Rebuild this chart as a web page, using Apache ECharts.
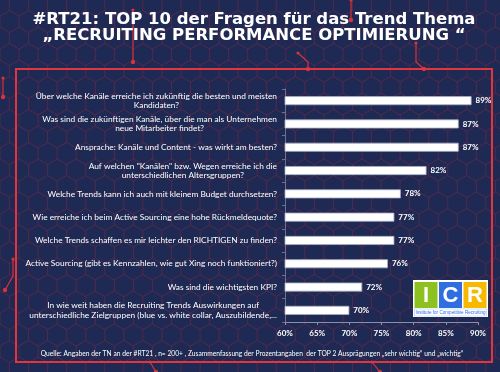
<!DOCTYPE html>
<html>
<head>
<meta charset="utf-8">
<script src="https://cdn.jsdelivr.net/npm/echarts@6/dist/echarts.min.js"></script>
<style>
html,body{margin:0;padding:0;background:#1e2a53;}
#c{width:500px;height:372px;}
</style>
</head>
<body>
<div id="c"></div>
<script>
// ---- data ----
const titleLines = [
  '#RT21: TOP 10 der Fragen für das Trend Thema',
  '„RECRUITING PERFORMANCE OPTIMIERUNG “'
];
const categories = [
  'Über welche Kanäle erreiche ich zukünftig die besten und meisten\nKandidaten?',
  'Was sind die zukünftigen Kanäle, über die man als Unternehmen\nneue Mitarbeiter findet?',
  'Ansprache: Kanäle und Content - was wirkt am besten?',
  'Auf welchen "Kanälen" bzw. Wegen erreiche ich die\nunterschiedlichen Altersgruppen?',
  'Welche Trends kann ich auch mit kleinem Budget durchsetzen?',
  'Wie erreiche ich beim Active Sourcing eine hohe Rückmeldequote?',
  'Welche Trends schaffen es mir leichter den RICHTIGEN zu finden?',
  'Active Sourcing (gibt es Kennzahlen, wie gut Xing noch funktioniert?)',
  'Was sind die wichtigsten KPI?',
  'In wie weit haben die Recruiting Trends Auswirkungen auf\nunterschiedliche Zielgruppen (blue vs. white collar, Auszubildende,...'
];
const values = [89, 87, 87, 82, 78, 77, 77, 76, 72, 70];
const axisMin = 60, axisMax = 90, axisStep = 5;
const footerText = 'Quelle: Angaben der TN an der #RT21 , n= 200+ , Zusammenfassung der Prozentangaben  der TOP 2 Ausprägungen „sehr wichtig“ und „wichtig“';
const logoLetters = ['I', 'C', 'R'];
const logoCaption = 'Institute for Competitive Recruiting';

// ---- decoration: hexagon background pattern ----
const W = 500, H = 372;
const hexR = 11, hexW = Math.sqrt(3) * hexR, y0 = 5;
const patternColor = 'rgba(170,40,62,0.55)';
const deco = [];
const rows = Math.ceil(H / (1.5 * hexR)) + 2;
for (let j = 0; j < rows; j++) {
  const yc = y0 + j * 1.5 * hexR;
  const off = (j % 2) * hexW / 2;
  const pts = [];
  for (let k = -2; k * hexW / 2 + off < W + hexW; k++) {
    const x = off + k * hexW / 2;
    pts.push([x, (k % 2 === 0) ? yc - hexR : yc - hexR / 2]);
  }
  deco.push({type: 'polyline', silent: true, z: 0, shape: {points: pts},
    style: {stroke: patternColor, lineWidth: 0.7, fill: null}});
}
for (let parity = 0; parity < 2; parity++) {
  const startY = y0 + parity * 1.5 * hexR - hexR / 2 - 3 * hexR;
  const xoff = parity === 0 ? hexW / 2 : 0;
  for (let x = xoff - hexW; x < W + hexW; x += hexW) {
    deco.push({type: 'line', silent: true, z: 0,
      shape: {x1: x, y1: startY, x2: x, y2: H + 20},
      style: {stroke: patternColor, lineWidth: 0.7, lineDash: [hexR, 2 * hexR]}});
  }
}
// red circuit accents
const accentColor = '#d8323c';
const accents = [
  [[133, 10], [133, 62]],
  [[351, 0], [351, 20]],
  [[298, 53], [308, 62], [308, 69]],
  [[416, 43], [416, 62], [424, 69]],
  [[3, 78], [3, 97]],
  [[13, 259], [13, 276], [5, 290]],
  [[150, 362], [156, 372]],
  [[372, 362], [380, 372]]
];
accents.forEach(a => {
  deco.push({type: 'polyline', silent: true, z: 1, shape: {points: a},
    style: {stroke: accentColor, lineWidth: 1.2, fill: null}});
  const e = a[a.length - 1];
  deco.push({type: 'circle', silent: true, z: 1, shape: {cx: e[0], cy: e[1], r: 2.2},
    style: {fill: accentColor}});
  const s = a[0];
  deco.push({type: 'circle', silent: true, z: 1, shape: {cx: s[0], cy: s[1], r: 1.6},
    style: {fill: accentColor}});
});

// frame
deco.push({type: 'rect', silent: true, z: 1, shape: {x: 16, y: 69, width: 476, height: 293},
  style: {fill: null, stroke: '#e3353b', lineWidth: 2}});

// title
titleLines.forEach((t, i) => {
  deco.push({type: 'text', silent: true, z: 5, x: 254, y: 19.5 + i * 16,
    style: {text: t, fill: '#ffffff', font: 'bold 16.5px "DejaVu Sans"', align: 'center', verticalAlign: 'middle'}});
});
// footer
deco.push({type: 'text', silent: true, z: 5, x: 252, y: 354,
  style: {text: footerText, fill: '#ffffff', font: '6.7px Lato', align: 'center', verticalAlign: 'middle'}});

// logo
const logoColors = ['#8cc11f', '#2f6ee0', '#f7b800'];
const logoChildren = [{type: 'rect', shape: {x: 0, y: 0, width: 75, height: 37}, style: {fill: '#ffffff'}}];
logoLetters.forEach((L, i) => {
  const bx = 1.5 + i * 24.5;
  logoChildren.push({type: 'rect', shape: {x: bx, y: 2, width: 23, height: 26}, style: {fill: logoColors[i]}});
  logoChildren.push({type: 'text', x: bx + 11.5, y: 15.5,
    style: {text: L, fill: '#ffffff', font: 'bold 22px Arial, "Liberation Sans"', align: 'center', verticalAlign: 'middle'}});
});
logoChildren.push({type: 'rect', shape: {x: 1.5, y: 29, width: 72, height: 7}, style: {fill: '#ffffff', stroke: '#9cc2f0', lineWidth: 0.5}});
logoChildren.push({type: 'text', x: 37.5, y: 32.5,
  style: {text: logoCaption, fill: '#2f6ee0', font: '4.6px "Liberation Sans"', align: 'center', verticalAlign: 'middle'}});
deco.push({type: 'group', x: 413, y: 280, z: 10, silent: true, children: logoChildren});

// ---- chart ----
const chart = echarts.init(document.getElementById('c'), null, {renderer: 'canvas', width: W, height: H});
chart.setOption({
  backgroundColor: '#1e2a53',
  animation: false,
  grid: {left: 285, right: 22, top: 89, bottom: 50},
  xAxis: {
    type: 'value', min: axisMin, max: axisMax, interval: axisStep,
    axisLine: {show: true, lineStyle: {color: '#8a90a8', width: 1}},
    axisTick: {show: true, length: 3, lineStyle: {color: '#8a90a8'}},
    splitLine: {show: false},
    axisLabel: {formatter: '{value}%', color: '#ffffff', fontSize: 8, fontWeight: 'bold', fontFamily: 'Lato', margin: 7}
  },
  yAxis: {
    type: 'category', data: categories, inverse: true,
    axisLine: {show: true, lineStyle: {color: '#6a7192', width: 1}},
    axisTick: {show: true, length: 3, lineStyle: {color: '#6a7192'}},
    axisLabel: {
      margin: 8, color: '#ffffff', fontSize: 8.35, fontFamily: 'Lato', lineHeight: 9.5,
      formatter: v => v.split('\n').map(l => '{c|' + l + '}').join('\n'),
      rich: {c: {align: 'center', color: '#ffffff', fontSize: 8.35, fontFamily: 'Lato', lineHeight: 9.5}}
    }
  },
  series: [{
    type: 'bar', data: values, barWidth: 9,
    itemStyle: {color: '#ffffff', borderColor: '#a7aec4', borderWidth: 0.8},
    label: {show: true, position: 'right', distance: 4, formatter: '{c}%', color: '#ffffff',
      fontSize: 8, fontWeight: 'bold', fontFamily: 'Lato'}
  }],
  graphic: {elements: deco}
});
</script>
</body>
</html>
